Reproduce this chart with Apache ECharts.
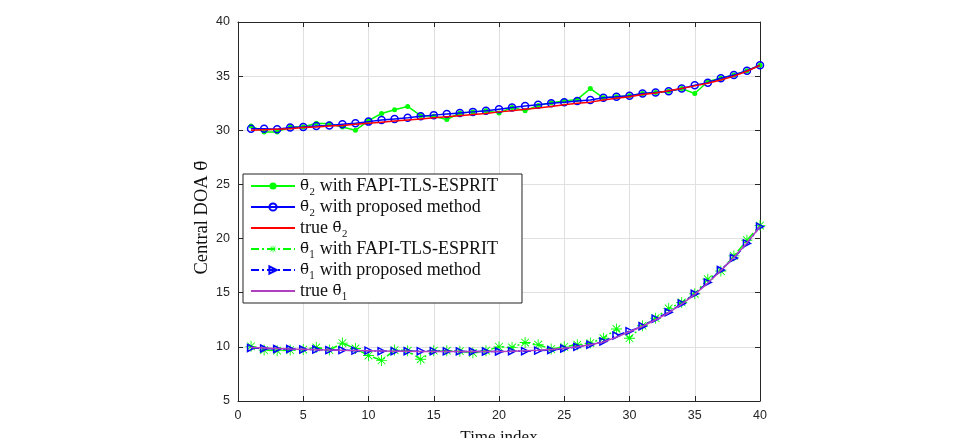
<!DOCTYPE html>
<html><head><meta charset="utf-8">
<script src="https://cdn.jsdelivr.net/npm/echarts@6/dist/echarts.min.js"></script>
<style>html,body{margin:0;padding:0;background:#fff}#c{width:962px;height:438px}</style>
</head><body><div id="c"></div>
<script>
const timeIndex = [1,2,3,4,5,6,7,8,9,10,11,12,13,14,15,16,17,18,19,20,21,22,23,24,25,26,27,28,29,30,31,32,33,34,35,36,37,38,39,40];
const theta2Fapi = [30.4,29.85,29.85,30.3,30.3,30.65,30.6,30.3,30.0,30.9,31.55,31.9,32.2,31.35,31.3,31.0,31.6,31.7,31.8,31.6,32.1,31.8,32.3,32.55,32.7,32.85,33.85,33.0,33.1,33.2,33.4,33.5,33.6,33.85,33.4,34.5,34.8,35.1,35.5,36.0];
const theta2Prop = [30.15,30.15,30.1,30.25,30.3,30.4,30.45,30.55,30.65,30.8,30.95,31.05,31.15,31.3,31.4,31.5,31.6,31.7,31.8,31.95,32.1,32.25,32.35,32.5,32.6,32.7,32.8,33.0,33.1,33.2,33.4,33.5,33.6,33.85,34.15,34.4,34.8,35.1,35.5,36.0];
const theta2True = [30.0,30.05,30.1,30.15,30.25,30.3,30.4,30.45,30.55,30.65,30.75,30.85,30.95,31.05,31.15,31.25,31.35,31.45,31.55,31.7,31.8,31.95,32.05,32.2,32.35,32.5,32.6,32.8,32.95,33.1,33.3,33.45,33.65,33.85,34.1,34.35,34.65,35.0,35.45,36.0];
const theta1Fapi = [10.05,9.7,9.65,9.7,9.75,9.95,9.7,10.35,9.85,9.2,8.75,9.7,9.65,8.85,9.65,9.65,9.6,9.45,9.65,10.0,9.95,10.4,10.2,9.8,10.0,10.2,10.35,10.8,11.65,10.8,11.95,12.65,13.55,14.1,14.9,16.25,17.0,18.4,19.85,21.2];
const theta1Prop = [9.9,9.85,9.8,9.8,9.75,9.75,9.7,9.7,9.65,9.65,9.6,9.6,9.6,9.6,9.6,9.58,9.58,9.57,9.57,9.57,9.6,9.6,9.65,9.7,9.85,10.0,10.2,10.5,11.05,11.45,11.9,12.6,13.2,14.0,14.9,15.95,17.1,18.2,19.55,21.1];
const theta1True = [9.95,9.9,9.85,9.8,9.77,9.74,9.71,9.68,9.66,9.64,9.62,9.6,9.59,9.58,9.57,9.56,9.56,9.56,9.57,9.58,9.6,9.63,9.68,9.76,9.87,10.02,10.2,10.45,10.9,11.4,11.9,12.5,13.15,13.95,14.85,15.9,17.05,18.25,19.6,21.1];
const seriesNames = ['θ\u0304\u2082 with FAPI-TLS-ESPRIT','θ\u0304\u2082 with proposed method','true θ\u0304\u2082','θ\u0304\u2081 with FAPI-TLS-ESPRIT','θ\u0304\u2081 with proposed method','true θ\u0304\u2081'];

const pts = v => timeIndex.map((t,i)=>[t,v[i]]);
const star = 'path://M0 9.2L20 9.2L20 10.8L0 10.8Z M9.2 0L10.8 0L10.8 20L9.2 20Z M3.6 2.5L17.5 16.4L16.4 17.5L2.5 3.6Z M16.4 2.5L17.5 3.6L3.6 17.5L2.5 16.4Z';
const ax = '#262626';
const serif = 'Liberation Serif, Times New Roman, serif';
const richTxt = {
  r:{fontFamily:serif,fontSize:18,color:'#111',lineHeight:17},
  t:{fontFamily:'DejaVu Serif',fontSize:15,color:'#111',lineHeight:17}
};
function richName(name){
  const s = name.replace('θ\u0304','\u0000');
  const parts = s.split('\u0000');
  return (parts[0]?'{r|'+parts[0]+'}':'') + '{t|θ\u0304}' + '{r|'+parts[1]+'}';
}
const chart = echarts.init(document.getElementById('c'), null, {renderer:'canvas'});
const baseX = {type:'value',min:0,max:40,interval:5,axisLine:{show:true,onZero:false,lineStyle:{color:ax,width:1}},axisTick:{inside:true,length:5,lineStyle:{color:ax}},splitLine:{show:false}};
const baseY = {type:'value',min:5,max:40,interval:5,axisLine:{show:true,onZero:false,lineStyle:{color:ax,width:1}},axisTick:{inside:true,length:5,lineStyle:{color:ax}},splitLine:{show:false}};
chart.setOption({
  animation:false,
  backgroundColor:'#fff',
  grid:{left:238,right:202,top:22,bottom:37,outerBoundsMode:'none',containLabel:false},
  xAxis:[
    Object.assign({},baseX,{position:'bottom',splitLine:{show:true,lineStyle:{color:'#e0e0e0',width:1}},
      axisLabel:{color:'#262626',fontFamily:'Liberation Sans, Arial',fontSize:12.5,margin:8},
      name:'Time index',nameLocation:'middle',nameGap:28,nameMoveOverlap:false,nameTextStyle:{fontFamily:serif,fontSize:17,color:'#111'}}),
    Object.assign({},baseX,{position:'top',axisLabel:{show:false}})
  ],
  yAxis:[
    Object.assign({},baseY,{position:'left',splitLine:{show:true,lineStyle:{color:'#e0e0e0',width:1}},
      axisLabel:{color:'#262626',fontFamily:'Liberation Sans, Arial',fontSize:12.5,margin:8},
      name:'{a|Central DOA }{b|θ\u0304}',nameLocation:'middle',nameGap:26,nameRotate:90,nameMoveOverlap:false,
      nameTextStyle:{fontFamily:serif,fontSize:18.5,color:'#111',padding:[0,12,0,0],
        rich:{a:{fontFamily:serif,fontSize:18.5,color:'#111'},b:{fontFamily:'DejaVu Serif',fontSize:17,color:'#111'}}}}),
    Object.assign({},baseY,{position:'right',axisLabel:{show:false}})
  ],
  legend:{
    orient:'vertical',left:243,top:174,
    backgroundColor:'#fff',borderColor:'#222',borderWidth:1,
    padding:[3,24,3,7],itemGap:3,itemWidth:44,itemHeight:9,
    textStyle:{fontFamily:serif,fontSize:18,color:'#111',rich:richTxt},
    formatter:richName,
    data:[
      {name:seriesNames[0]},
      {name:seriesNames[1]},
      {name:seriesNames[2],itemStyle:{opacity:0}},
      {name:seriesNames[3]},
      {name:seriesNames[4]},
      {name:seriesNames[5],itemStyle:{opacity:0}}
    ]
  },
  series:[
    {name:seriesNames[0],type:'line',data:pts(theta2Fapi),symbol:'circle',symbolSize:5,
      lineStyle:{color:'#00ff00',width:1.5},itemStyle:{color:'#00ff00'},z:2},
    {name:seriesNames[1],type:'line',data:pts(theta2Prop),symbol:'circle',symbolSize:7,
      lineStyle:{color:'#0000ff',width:1.5},itemStyle:{color:'rgba(255,255,255,0)',borderColor:'#0000ff',borderWidth:1.5},z:3},
    {name:seriesNames[2],type:'line',data:pts(theta2True),showSymbol:false,symbol:'none',
      lineStyle:{color:'#ff0000',width:1.5},itemStyle:{color:'#ff0000'},z:4},
    {name:seriesNames[3],type:'line',data:pts(theta1Fapi),symbol:star,symbolSize:11,symbolKeepAspect:true,
      lineStyle:{color:'#00ff00',width:1.5,type:[8,3,2,3]},itemStyle:{color:'#00ff00'},z:2},
    {name:seriesNames[4],type:'line',data:pts(theta1Prop),symbol:'triangle',symbolSize:7,symbolRotate:-90,
      lineStyle:{color:'#0000ff',width:1.5,type:[8,3,2,3]},itemStyle:{color:'rgba(255,255,255,0)',borderColor:'#0000ff',borderWidth:1.5},z:3},
    {name:seriesNames[5],type:'line',data:pts(theta1True),showSymbol:false,symbol:'none',
      lineStyle:{color:'#b040c0',width:1.5},itemStyle:{color:'#b040c0'},z:4}
  ]
});
</script></body></html>
